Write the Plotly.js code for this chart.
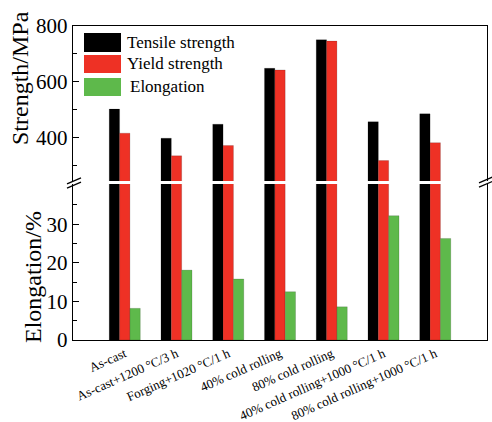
<!DOCTYPE html>
<html>
<head>
<meta charset="utf-8">
<script src="https://cdn.plot.ly/plotly-3.0.1.min.js"></script>
<style>html,body{margin:0;padding:0;background:#fff;}#chart{width:492px;height:422px;}</style>
</head>
<body>
<div id="chart"></div>
<script>
// ---- data ----
const categories = [
  "As-cast",
  "As-cast+1200 °C/3 h",
  "Forging+1020 °C/1 h",
  "40% cold rolling",
  "80% cold rolling",
  "40% cold rolling+1000 °C/1 h",
  "80% cold rolling+1000 °C/1 h"
];
const tensileStrength = [503, 399, 449, 649, 751, 458, 486];
const yieldStrength   = [417, 336, 373, 643, 746, 319, 383];
const elongation      = [8.2, 18.1, 15.8, 12.5, 8.6, 32.2, 26.3];
const seriesNames = ["Tensile strength", "Yield strength", "Elongation"];
const strengthTicks = [400, 600, 800];
const elongationTicks = [0, 10, 20, 30];

// ---- styles ----
const colors = ["#000000", "#EE3125", "#5EB94B"];
const W = 492, H = 422;
const M = {l: 73, r: 5, t: 26, b: 82};
const PW = W - M.l - M.r, PH = H - M.t - M.b;
const px = x => (x - M.l) / PW;          // pixel x -> paper
const py = y => (H - M.b - y) / PH;      // pixel y -> paper
const font = "'Liberation Serif', 'Times New Roman', serif";

const series = [tensileStrength, yieldStrength, elongation];
const traces = [];
["y2", "y"].forEach(ya => {
  series.forEach((vals, i) => {
    traces.push({
      type: "bar", x: categories, y: vals, name: seriesNames[i],
      xaxis: ya === "y2" ? "x2" : "x", yaxis: ya,
      marker: {color: colors[i], line: {width: 0.6, color: "rgba(0,0,0,0.25)"}},
      showlegend: false, hoverinfo: "x+y"
    });
  });
});

const shapes = [];
const annotations = [];
// break marks
function brk(cx, cy) {
  [-2.2, 2.2].forEach(d => shapes.push({
    type: "line", xref: "paper", yref: "paper",
    x0: px(cx - 7), y0: py(cy + d + 3), x1: px(cx + 7), y1: py(cy + d - 3),
    line: {color: "#000", width: 1.3}
  }));
}
brk(74, 183);
brk(486, 182);

// legend (drawn)
const legRows = [[33, 52], [55, 73], [78, 96]];
legRows.forEach((r, i) => {
  shapes.push({type: "rect", xref: "paper", yref: "paper",
    x0: px(84), x1: px(121), y0: py(r[1]), y1: py(r[0]),
    fillcolor: colors[i], line: {width: 0}});
  annotations.push({xref: "paper", yref: "paper", x: px(i === 2 ? 128 : 125), y: py((r[0] + r[1]) / 2),
    xanchor: "left", yanchor: "middle", showarrow: false, text: seriesNames[i],
    font: {family: font, size: 17, color: "#000"}});
});

// axis titles
annotations.push({xref: "paper", yref: "paper", x: px(20), y: py(78), xanchor: "center", yanchor: "middle",
  textangle: -90, showarrow: false, text: "Strength/MPa", font: {family: font, size: 24, color: "#000"}});
annotations.push({xref: "paper", yref: "paper", x: px(33), y: py(277), xanchor: "center", yanchor: "middle",
  textangle: -90, showarrow: false, text: "Elongation/%", font: {family: font, size: 24, color: "#000"}});

const tickFont = {family: font, size: 21, color: "#000"};
const layout = {
  width: W, height: H,
  margin: M,
  paper_bgcolor: "#fff", plot_bgcolor: "#fff",
  barmode: "group", bargap: 0.4, bargroupgap: 0,
  showlegend: false,
  xaxis: {
    anchor: "y", type: "category", range: [-1, 7],
    showline: true, linecolor: "#000", linewidth: 1.3, ticks: "",
    showgrid: false, zeroline: false, tickangle: -24,
    tickfont: {family: font, size: 13, color: "#000"}
  },
  xaxis2: {
    anchor: "y2", matches: "x", side: "top", type: "category", range: [-1, 7],
    showline: true, linecolor: "#000", linewidth: 1.3, ticks: "",
    showticklabels: false, showgrid: false, zeroline: false
  },
  yaxis: {
    domain: [0, py(184)], range: [0, 40.4],
    showline: true, mirror: true, linecolor: "#000", linewidth: 1.3,
    ticks: "inside", ticklen: 6, tickcolor: "#000",
    tickmode: "array", tickvals: elongationTicks, ticktext: elongationTicks.map(String),
    minor: {tickmode: "array", tickvals: [5, 15, 25, 35], ticks: "inside", ticklen: 4, tickcolor: "#000"},
    showgrid: false, zeroline: false, tickfont: tickFont
  },
  yaxis2: {
    domain: [py(181), 1], range: [246, 800],
    showline: true, mirror: true, linecolor: "#000", linewidth: 1.3,
    ticks: "inside", ticklen: 6, tickcolor: "#000",
    tickmode: "array", tickvals: strengthTicks, ticktext: strengthTicks.map(String),
    minor: {tickmode: "array", tickvals: [300, 500, 700], ticks: "inside", ticklen: 4, tickcolor: "#000"},
    showgrid: false, zeroline: false, tickfont: tickFont
  },
  shapes: shapes,
  annotations: annotations
};

Plotly.newPlot("chart", traces, layout, {displayModeBar: false, staticPlot: true});
</script>
</body>
</html>
